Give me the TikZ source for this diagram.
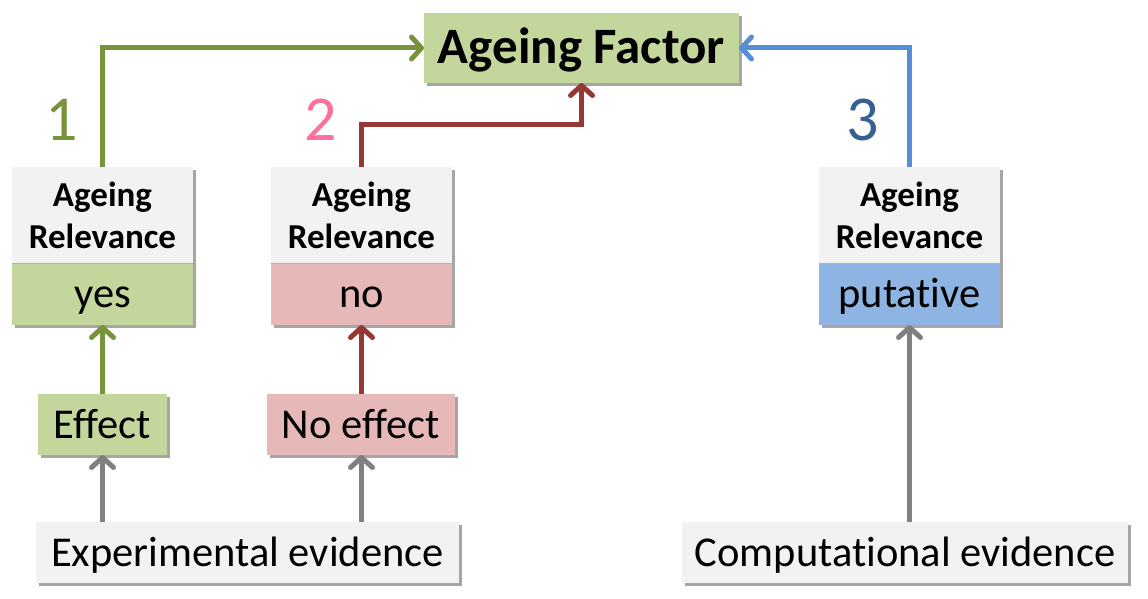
\documentclass[tikz,border=0pt]{standalone}
\usepackage{fontspec}
\setmainfont[Ligatures={NoCommon,NoContextual},Contextuals=NoAlternate]{Carlito}
\usetikzlibrary{arrows.meta,shadows,calc}
\definecolor{gfill}{HTML}{C3D69B}
\definecolor{rfill}{HTML}{E6B8B7}
\definecolor{bfill}{HTML}{8DB4E2}
\definecolor{lfill}{HTML}{F2F2F2}
\definecolor{garr}{HTML}{77933C}
\definecolor{rarr}{HTML}{953735}
\definecolor{barr}{HTML}{558ED5}
\definecolor{grarr}{HTML}{808080}
\definecolor{numone}{HTML}{77933C}
\definecolor{numtwo}{HTML}{FF6F9C}
\definecolor{numthree}{HTML}{376092}
\tikzset{
  box/.style={inner sep=0pt, outer sep=0pt,
    drop shadow={shadow xshift=3pt, shadow yshift=-3pt, fill=black, opacity=0.35}},
  onel/.style={text height=27pt, text depth=0pt},
  relbox/.style={box, align=center, fill=lfill, minimum width=181pt, minimum height=96pt,
    font=\fontsize{35}{42}\selectfont\bfseries},
  valbox/.style={box, onel, minimum width=181pt, minimum height=62pt,
    font=\fontsize{42.5}{46}\selectfont},
  effbox/.style={box, onel, minimum height=61pt, font=\fontsize{42.5}{46}\selectfont},
  evbox/.style={box, onel, fill=lfill, minimum height=61pt, font=\fontsize{42.5}{46}\selectfont},
  conn/.style={line width=5pt, -{Straight Barb[length=10pt,width=22pt,round]}},
  num/.style={font=\fontsize{64}{66}\selectfont, inner sep=0pt, anchor=base}
}
\begin{document}
\begin{tikzpicture}[x=1pt,y=-1pt]
\useasboundingbox (0,0) rectangle (1148,599);
% main node
\node[box, text height=32pt, text depth=0pt, fill=gfill, minimum width=315pt, minimum height=70pt,
  font=\fontsize{51}{55}\selectfont\bfseries] (af) at (581.5,48) {Ageing Factor};
% relevance boxes
\node[relbox] (ar1) at (102.5,215) {Ageing\\Relevance};
\node[valbox, fill=gfill] (yes) at (102.5,294) {yes};
\node[relbox] (ar2) at (361.5,215) {Ageing\\Relevance};
\node[valbox, fill=rfill] (no) at (361.5,294) {no};
\node[relbox] (ar3) at (909.5,215) {Ageing\\Relevance};
\node[valbox, fill=bfill] (put) at (909.5,294) {putative};
\draw[black!30, line width=1pt] (yes.north west) -- (yes.north east);
\draw[black!30, line width=1pt] (no.north west) -- (no.north east);
\draw[black!30, line width=1pt] (put.north west) -- (put.north east);
% effect boxes
\node[effbox, fill=gfill, minimum width=129pt] (eff) at (102.5,424.5) {Effect};
\node[effbox, fill=rfill, minimum width=188pt] (noeff) at (361,424.5) {No effect};
% evidence boxes
\node[evbox, minimum width=423pt] (exp) at (247.5,552.5) {Experimental evidence};
\node[evbox, minimum width=446pt] (comp) at (905,552.5) {Computational evidence};
% numbers
\node[num, text=numone] (n1) at (62,140) {1};
\node[num, text=numtwo] (n2) at (321,140) {2};
\node[num, text=numthree] (n3) at (863,140) {3};
% connectors
\draw[conn, garr] (ar1.north) |- (af.west);
\draw[conn, rarr] (ar2.north) -- ++(0,-42) -| (af.south);
\draw[conn, barr] (ar3.north) |- (af.east);
\draw[conn, garr] (eff.north) -- (yes.south);
\draw[conn, rarr] (noeff.north -| no.south) -- (no.south);
\draw[conn, grarr] (exp.north -| eff.south) -- (eff.south);
\draw[conn, grarr] (exp.north -| no.south) -- (noeff.south -| no.south);
\draw[conn, grarr] (comp.north -| put.south) -- (put.south);
\end{tikzpicture}
\end{document}
